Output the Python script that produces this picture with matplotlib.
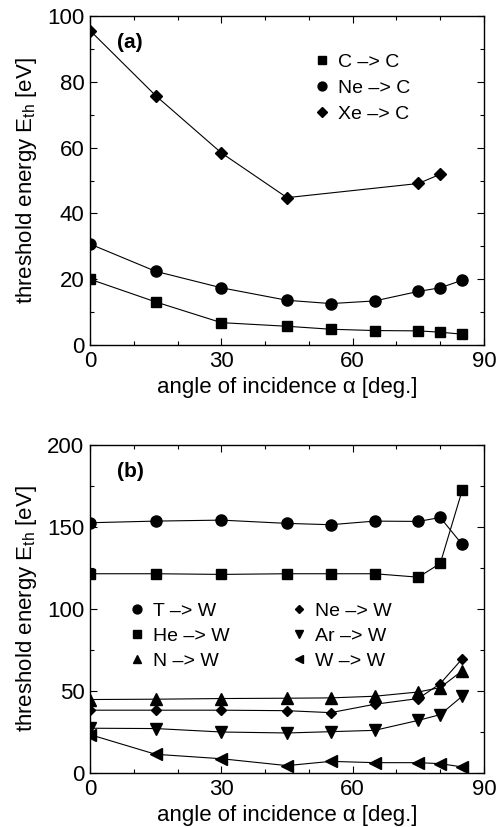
import matplotlib
matplotlib.use("Agg")
import matplotlib.pyplot as plt
from matplotlib.ticker import MultipleLocator

plt.rcParams['font.family'] = ['Liberation Sans', 'DejaVu Sans']
plt.rcParams['mathtext.fontset'] = 'custom'
plt.rcParams['mathtext.rm'] = 'Liberation Sans'
plt.rcParams['mathtext.it'] = 'Liberation Sans'

# panel (a): targets carbon
angle_a = [0, 15, 30, 45, 55, 65, 75, 80, 85]
c_c = [20.0, 13.1, 6.8, 5.7, 4.8, 4.4, 4.3, 3.9, 3.3]
ne_c = [30.7, 22.4, 17.4, 13.6, 12.6, 13.4, 16.3, 17.4, 19.7]
angle_xe = [0, 15, 30, 45, 75, 80]
xe_c = [95.6, 75.8, 58.4, 44.8, 49.1, 51.9]

# panel (b): targets tungsten
angle_b = [0, 15, 30, 45, 55, 65, 75, 80, 85]
t_w = [152.6, 153.6, 154.2, 152.2, 151.4, 153.6, 153.4, 155.8, 139.4]
he_w = [121.5, 121.5, 121.1, 121.5, 121.5, 121.5, 119.4, 127.8, 172.3]
n_w = [44.8, 45.0, 45.4, 45.6, 45.8, 46.8, 49.4, 52.1, 62.3]
ne_w = [38.3, 38.3, 38.3, 38.0, 36.8, 41.9, 45.4, 54.5, 69.6]
ar_w = [27.3, 27.1, 25.0, 24.4, 25.2, 26.0, 32.1, 35.6, 46.8]
w_w = [23.4, 11.4, 8.7, 4.5, 7.1, 6.3, 6.3, 5.7, 3.7]

fig = plt.figure(figsize=(4.96, 8.27), dpi=100)
ax1 = fig.add_axes([0.1815, 0.5828, 0.7944, 0.3978])
ax2 = fig.add_axes([0.1815, 0.0653, 0.7944, 0.3966])

lw = 0.8
kw = dict(color='black', lw=lw, mfc='black', mec='black')

ax1.plot(angle_a, c_c, marker='s', ms=7, label='C \u2013> C', **kw)
ax1.plot(angle_a, ne_c, marker='o', ms=8, label='Ne \u2013> C', **kw)
ax1.plot(angle_xe, xe_c, marker='D', ms=6, label='Xe \u2013> C', **kw)

ax2.plot(angle_b, t_w, marker='o', ms=8, label='T \u2013> W', **kw)
ax2.plot(angle_b, he_w, marker='s', ms=7, label='He \u2013> W', **kw)
ax2.plot(angle_b, n_w, marker='^', ms=8, label='N \u2013> W', **kw)
ax2.plot(angle_b, ne_w, marker='D', ms=5.5, label='Ne \u2013> W', **kw)
ax2.plot(angle_b, ar_w, marker='v', ms=8, label='Ar \u2013> W', **kw)
ax2.plot(angle_b, w_w, marker='<', ms=8, label='W \u2013> W', **kw)

for ax, ymax, ymaj, ymin in [(ax1, 100, 20, 10), (ax2, 200, 50, 25)]:
    ax.set_xlim(0, 90)
    ax.set_ylim(0, ymax)
    ax.xaxis.set_major_locator(MultipleLocator(30))
    ax.xaxis.set_minor_locator(MultipleLocator(10))
    ax.yaxis.set_major_locator(MultipleLocator(ymaj))
    ax.yaxis.set_minor_locator(MultipleLocator(ymin))
    ax.tick_params(which='both', direction='in', top=True, right=True,
                   labelsize=16, width=0.8)
    ax.tick_params(which='major', length=5, pad=4)
    ax.tick_params(which='minor', length=3)
    for s in ax.spines.values():
        s.set_linewidth(1.0)
    ax.set_xlabel('angle of incidence \u03b1 [deg.]', fontsize=16, labelpad=4)
    ax.set_ylabel('threshold energy E$_{\\rm th}$ [eV]', fontsize=16, labelpad=6)

ax1.text(0.068, 0.92, '(a)', transform=ax1.transAxes, fontsize=15,
         fontweight='bold', va='center')
ax2.text(0.068, 0.918, '(b)', transform=ax2.transAxes, fontsize=15,
         fontweight='bold', va='center')

ax1.legend(loc='upper left', bbox_to_anchor=(0.545, 0.91), frameon=False,
           fontsize=14, handlelength=1.0, handletextpad=0.3,
           labelspacing=0.42, markerscale=0.8, borderaxespad=0)
leg = ax2.legend(loc='upper left', bbox_to_anchor=(0.075, 0.545), ncol=2,
                 frameon=False, fontsize=14, handlelength=1.0,
                 handletextpad=0.3, labelspacing=0.38, columnspacing=3.1,
                 markerscale=0.8, borderaxespad=0)
for h in ax1.get_legend().legend_handles + leg.legend_handles:
    h.set_linestyle('none')

fig.savefig('out.png', dpi=100)
